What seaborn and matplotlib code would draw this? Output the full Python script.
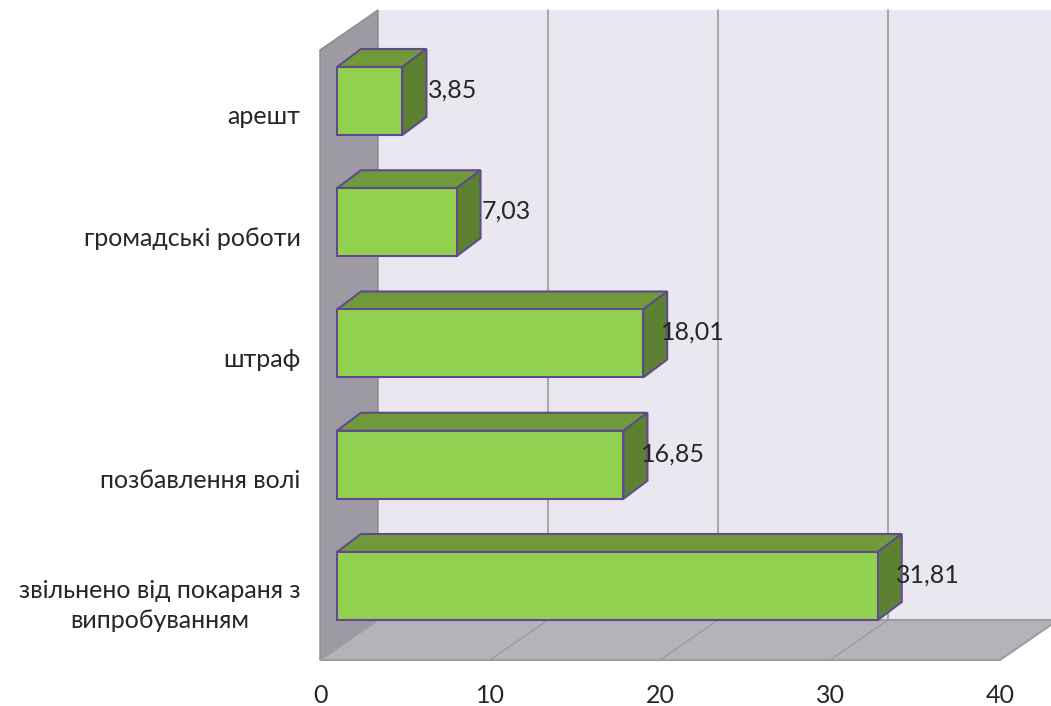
import numpy as np
import pandas as pd
import matplotlib
matplotlib.use("Agg")
import matplotlib.pyplot as plt
import seaborn as sns
from matplotlib.patches import Polygon

# ---------------- data ----------------
categories = ["арешт", "громадські роботи", "штраф", "позбавлення волі",
              "звільнено від покараня з\nвипробуванням"]
values = [3.85, 7.03, 18.01, 16.85, 31.81]
value_labels = ["3,85", "7,03", "18,01", "16,85", "31,81"]
x_ticks = [0, 10, 20, 30, 40]

# ---------------- style / geometry ----------------
W, H = 1051, 706
PX_X = 17.0        # pixels per value unit
PX_Y = 121.25      # pixels per category step
BAR_SHIFT = 17 / PX_X          # bar plane offset from front plane (value units)
DEPTH = (58 / PX_X, -40 / PX_Y)  # wall depth in data units
BDEPTH = (24 / PX_X, -18 / PX_Y)  # bar depth in data units
BAR_H = 68 / PX_Y
Y_BOTTOM = (660 - 101) / PX_Y
Y_TOP = (50 - 101) / PX_Y

FRONT = "#92D050"
TOP = "#70993B"
SIDE = "#5C8231"
EDGE = "#5F4B8B"
BACK_WALL = "#EAE7F0"
LEFT_WALL = "#9E9AA3"
FLOOR = "#B6B2BA"
GRID = "#9A9A9A"
TXT = "#262626"
FS = 18

sns.set_theme(style="white")
plt.rcParams["font.family"] = ["Lato", "DejaVu Sans"]

fig = plt.figure(figsize=(W / 100, H / 100), dpi=100)
ax = fig.add_axes([320 / W, 1 - 660 / H, 680 / W, 610 / H])

df = pd.DataFrame({"cat": categories, "val": values})
sns.barplot(data=df, x="val", y="cat", orient="h", color=FRONT, saturation=1,
            width=BAR_H, edgecolor=EDGE, linewidth=1.5, errorbar=None,
            ax=ax, zorder=5)

ax.set_xlim(0, 40)
ax.set_ylim(Y_BOTTOM, Y_TOP)
for s in ax.spines.values():
    s.set_visible(False)
ax.grid(False)
ax.set_xlabel("")
ax.set_ylabel("")
ax.patch.set_alpha(0)

# shift bars into bar plane
bars = list(ax.patches)
for p in bars:
    p.set_x(p.get_x() + BAR_SHIFT)

dx, dy = DEPTH
# back wall
ax.add_patch(Polygon([(dx, Y_BOTTOM + dy), (40 + dx, Y_BOTTOM + dy),
                      (40 + dx, Y_TOP + dy), (dx, Y_TOP + dy)],
                     closed=True, facecolor=BACK_WALL, edgecolor="none",
                     zorder=1, clip_on=False))
# left wall
ax.add_patch(Polygon([(0, Y_TOP), (dx, Y_TOP + dy), (dx, Y_BOTTOM + dy), (0, Y_BOTTOM)],
                     closed=True, facecolor=LEFT_WALL, edgecolor="#8C8890",
                     linewidth=1.0, zorder=2, clip_on=False))
# floor
ax.add_patch(Polygon([(0, Y_BOTTOM), (dx, Y_BOTTOM + dy), (40 + dx, Y_BOTTOM + dy), (40, Y_BOTTOM)],
                     closed=True, facecolor=FLOOR, edgecolor="#A09CA4",
                     linewidth=1.5, zorder=2, clip_on=False))
# gridlines
for v in x_ticks[1:-1]:
    ax.plot([v + dx, v + dx], [Y_BOTTOM + dy, Y_TOP + dy], color=GRID, lw=1.2,
            zorder=1.5, clip_on=False)
    ax.plot([v, v + dx], [Y_BOTTOM, Y_BOTTOM + dy], color=GRID, lw=1.0,
            zorder=3, clip_on=False)

# 3D faces of bars
bx, by = BDEPTH
for p, v, lab in zip(bars, values, value_labels):
    x0 = p.get_x()
    x1 = x0 + p.get_width()
    y_top = p.get_y()
    y_bot = p.get_y() + p.get_height()
    y_top, y_bot = min(y_top, y_bot), max(y_top, y_bot)
    ax.add_patch(Polygon([(x0, y_top), (x1, y_top), (x1 + bx, y_top + by), (x0 + bx, y_top + by)],
                         closed=True, facecolor=TOP, edgecolor=EDGE, linewidth=1.5,
                         zorder=4, clip_on=False))
    ax.add_patch(Polygon([(x1, y_top), (x1 + bx, y_top + by), (x1 + bx, y_bot + by), (x1, y_bot)],
                         closed=True, facecolor=SIDE, edgecolor=EDGE, linewidth=1.5,
                         zorder=4, clip_on=False))
    yc = (y_top + y_bot) / 2
    ax.text(x1 + 50 / PX_X, yc - 11 / PX_Y, lab, ha="center", va="center",
            fontsize=FS, color=TXT, zorder=6)

ax.set_xticks(x_ticks)
ax.set_xticklabels([str(t) for t in x_ticks])
ax.set_yticks(np.arange(len(categories)) + 14 / PX_Y)
ax.set_yticklabels(categories)
ax.tick_params(axis="x", length=0, pad=17, labelsize=FS, labelcolor=TXT)
ax.tick_params(axis="y", length=0, pad=14, labelsize=FS, labelcolor=TXT)
for t in ax.get_yticklabels():
    t.set_multialignment("center")
    t.set_linespacing(1.35)

fig.savefig("out.png", dpi=100)
